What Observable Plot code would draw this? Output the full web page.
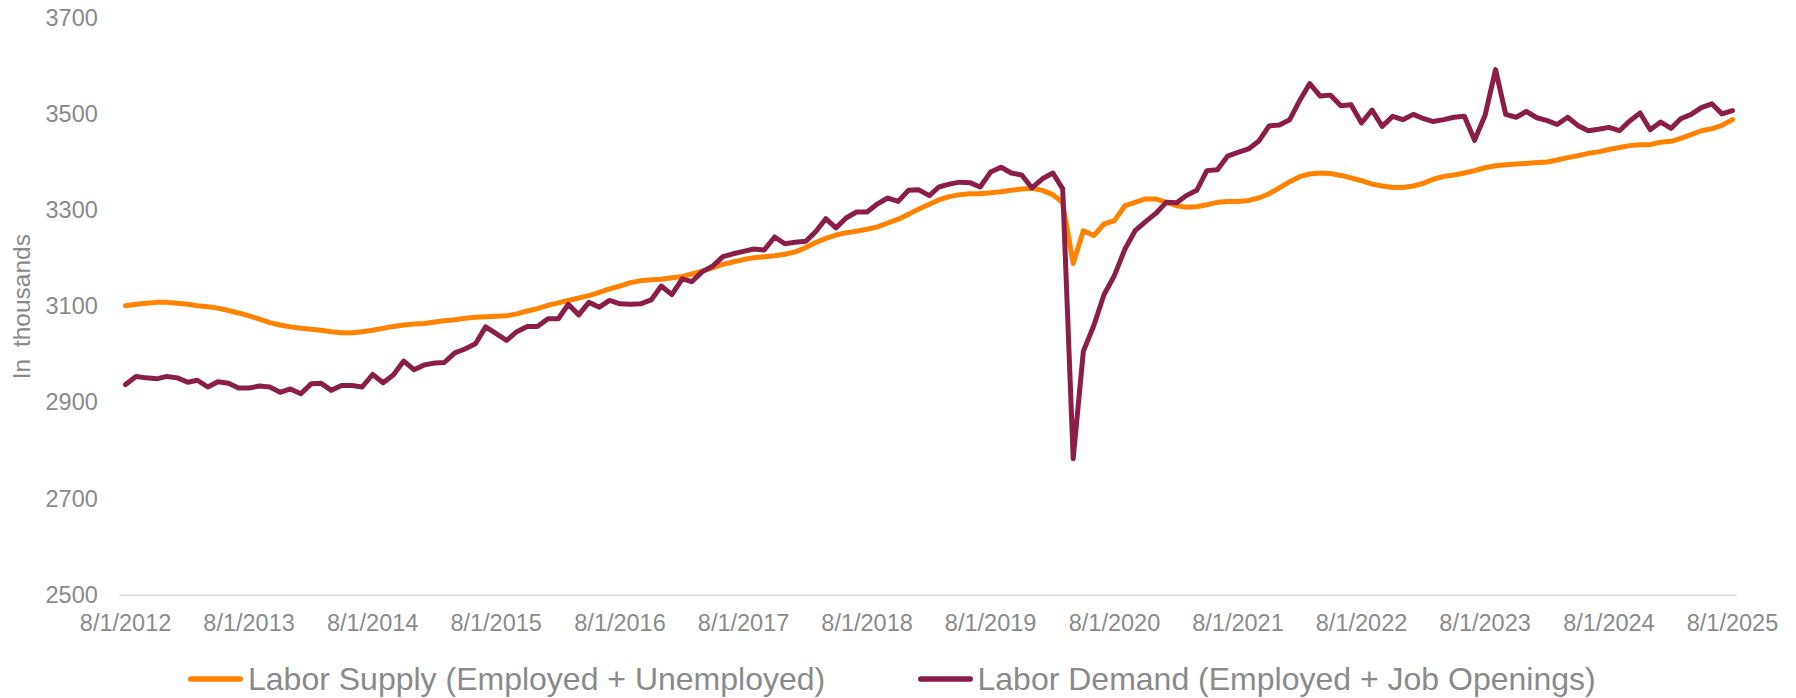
<!DOCTYPE html>
<html>
<head>
<meta charset="utf-8">
<script src="https://cdn.jsdelivr.net/npm/d3@7"></script>
<script src="https://cdn.jsdelivr.net/npm/@observablehq/plot@0.6"></script>
<style>
  html, body { margin: 0; padding: 0; background: #ffffff; overflow: hidden; }
  #chart svg { display: block; }
  #legend { position: relative; width: 1796px; height: 48px; font-family: "Liberation Sans", Arial, sans-serif; font-size: 32px; color: #8a8a8a; }
  .item { position: absolute; top: 5px; height: 48px; display: flex; align-items: center; white-space: nowrap; }
  .item svg { display: block; margin-right: 5px; }
</style>
</head>
<body>
<div id="chart"></div>
<div id="legend"></div>
<script>
// ---- Data (monthly, 8/1/2012 .. 8/1/2025) ----
const seriesNames = ["Labor Supply (Employed + Unemployed)", "Labor Demand (Employed + Job Openings)"];
const seriesColors = ["#ff8300", "#8b1e48"];

const laborSupply = [
  3102, 3105, 3107, 3109, 3109, 3107, 3105, 3102, 3100, 3097,
  3092, 3087, 3081, 3074, 3067, 3062, 3058, 3055, 3053, 3051,
  3048, 3046, 3046, 3048, 3051, 3055, 3059, 3062, 3064, 3065,
  3068, 3071, 3073, 3076, 3078, 3079, 3080, 3081, 3085, 3091,
  3096, 3103, 3108, 3113, 3118, 3123, 3130, 3137, 3143, 3150,
  3154, 3156, 3157, 3160, 3163, 3168, 3174, 3181, 3188, 3193,
  3198, 3202, 3204, 3206, 3209, 3214, 3223, 3233, 3242, 3249,
  3254, 3257, 3261, 3266, 3274, 3282, 3292, 3303, 3313, 3322,
  3329, 3333, 3335, 3335, 3337, 3339, 3342, 3345, 3346, 3342,
  3333, 3316, 3190, 3258, 3248, 3272, 3279, 3310, 3317, 3324,
  3324, 3317, 3310, 3307, 3308, 3312, 3317, 3319, 3319, 3321,
  3326, 3335, 3347, 3360, 3371, 3376, 3378, 3377, 3373, 3368,
  3362, 3355, 3351, 3348, 3348, 3351, 3357, 3365, 3371, 3374,
  3378, 3383, 3389, 3393, 3395, 3397, 3398, 3400, 3401, 3405,
  3410, 3414, 3419, 3422, 3427, 3431, 3435, 3437, 3437, 3442,
  3444, 3450, 3458, 3466, 3470, 3477, 3489
];

const laborDemand = [
  2938, 2955, 2952, 2950, 2955, 2952, 2943, 2947, 2933, 2944,
  2941, 2931, 2931, 2935, 2933, 2922, 2929, 2919, 2940, 2941,
  2926, 2936, 2936, 2933, 2959, 2942, 2958, 2987, 2969, 2979,
  2983, 2984, 3004, 3012, 3023, 3058, 3044, 3030, 3048, 3059,
  3059, 3075, 3075, 3105, 3083, 3109, 3099, 3113, 3106, 3105,
  3106, 3114, 3143, 3125, 3158, 3152, 3173, 3184, 3204, 3210,
  3215, 3220, 3218, 3245, 3231, 3234, 3236, 3255, 3283, 3264,
  3285, 3297, 3297, 3314, 3326, 3319, 3342, 3343, 3331, 3349,
  3355, 3359, 3358, 3349, 3380, 3390, 3378, 3374, 3347, 3366,
  3378, 3345, 2784, 3007, 3061, 3125, 3165, 3220, 3258, 3277,
  3294, 3317, 3316, 3331, 3342, 3383, 3385, 3413, 3421, 3428,
  3444, 3476, 3478, 3489, 3531, 3564, 3538, 3540, 3518, 3520,
  3482, 3509, 3475, 3496, 3489, 3500, 3491, 3485, 3489, 3494,
  3496, 3446, 3498, 3593, 3500, 3494, 3506, 3493, 3487, 3479,
  3494, 3477, 3466, 3469, 3473, 3466, 3486, 3503, 3468, 3484,
  3471, 3491, 3500, 3514, 3522, 3501, 3508
];

const yTicks = [2500, 2700, 2900, 3100, 3300, 3500, 3700];
const xTickYears = [2012, 2013, 2014, 2015, 2016, 2017, 2018, 2019, 2020, 2021, 2022, 2023, 2024, 2025];

// ---- Build table ----
const months = d3.utcMonth.range(new Date(Date.UTC(2012, 7, 1)), new Date(Date.UTC(2025, 8, 1)));
const table = months.map((date, i) => ({date, supply: laborSupply[i], demand: laborDemand[i]}));
const xTicks = xTickYears.map(y => new Date(Date.UTC(y, 7, 1)));
const fmt = d3.utcFormat("%-m/%-d/%Y");

const chart = Plot.plot({
  width: 1796,
  height: 650,
  marginTop: 17.7,
  marginBottom: 55.3,
  marginLeft: 119.3,
  marginRight: 59.3,
  style: {fontFamily: "'Liberation Sans', Arial, sans-serif", fontSize: "23.5px", color: "#8a8a8a", background: "#ffffff"},
  x: {type: "utc", domain: [new Date(Date.UTC(2012, 6, 15)), new Date(Date.UTC(2025, 7, 15))]},
  y: {domain: [2500, 3700]},
  marks: [
    Plot.ruleY([2500], {stroke: "#d9d9d9", strokeWidth: 1.5}),
    Plot.axisY({ticks: yTicks, tickSize: 0, tickPadding: 22, tickFormat: d => String(d),
      label: "In thousands", labelAnchor: "center", labelOffset: 107, labelArrow: "none", fill: "#8a8a8a"}),
    Plot.axisX({ticks: xTicks, tickSize: 0, tickPadding: 19, tickFormat: fmt, label: null, fill: "#8a8a8a"}),
    Plot.lineY(table, {x: "date", y: "supply", stroke: seriesColors[0], strokeWidth: 5, strokeLinejoin: "round", strokeLinecap: "round"}),
    Plot.lineY(table, {x: "date", y: "demand", stroke: seriesColors[1], strokeWidth: 5, strokeLinejoin: "round", strokeLinecap: "round"})
  ]
});
// enlarge the y-axis title to match the reference
chart.querySelectorAll('[aria-label="y-axis label"]').forEach(g => {
  g.setAttribute("font-size", "24.5");
  g.style.fontSize = "24.5px";
  g.style.wordSpacing = "5px";
});
document.getElementById("chart").appendChild(chart);

// ---- Legend ----
const legend = document.getElementById("legend");
const legendLeft = [188, 917.5];
seriesNames.forEach((name, i) => {
  const item = document.createElement("div");
  item.className = "item";
  item.style.left = legendLeft[i] + "px";
  item.innerHTML = `<svg width="55" height="10"><line x1="2.75" x2="52.25" y1="5" y2="5" stroke="${seriesColors[i]}" stroke-width="5.5" stroke-linecap="round"/></svg>`;
  const span = document.createElement("span");
  span.textContent = name;
  item.appendChild(span);
  legend.appendChild(item);
});
</script>
</body>
</html>
